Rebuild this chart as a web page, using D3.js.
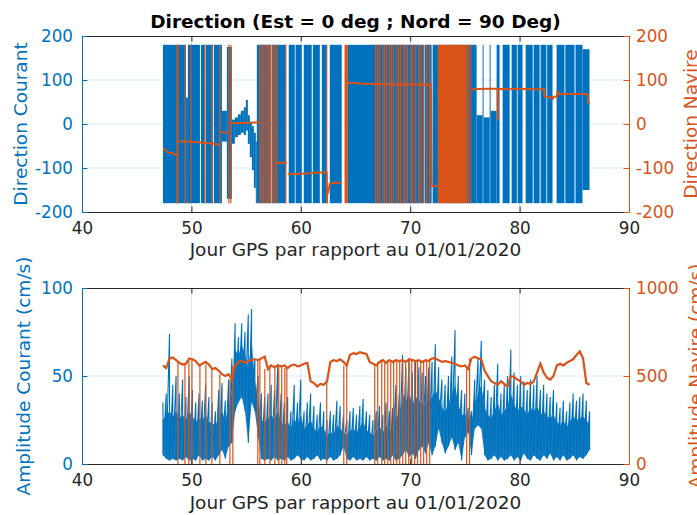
<!DOCTYPE html>
<html>
<head>
<meta charset="utf-8">
<script src="https://cdn.jsdelivr.net/npm/d3@7"></script>
<style>
  body { margin: 0; background: #fff; overflow: hidden; }
  svg text { font-family: "DejaVu Sans", sans-serif; }
</style>
</head>
<body>
<svg id="chart"></svg>
<script>
// ---- valeurs ----
const xTicks = [40, 50, 60, 70, 80, 90];
const dirTicks = [-200, -100, 0, 100, 200];
const ampCourantTicks = [0, 50, 100];
const ampNavireTicks = [0, 500, 1000];

// direction du courant : enveloppe min/max par tranche (debut de tranche, en jours)
const jourDirCourant = [47.40, 49.50, 49.68, 50.78, 50.87, 51.23, 51.32, 51.96, 52.05, 52.79,
  53.24, 53.70, 53.97, 54.25, 54.52, 54.79, 54.98, 55.16, 55.34, 55.53,
  55.71, 55.89, 55.98, 57.30, 57.36, 58.63, 58.90, 59.45, 59.52, 60.09,
  60.27, 61.00, 61.10, 61.74, 61.92, 62.37, 62.65, 63.74, 64.29, 71.23,
  71.32, 71.96, 72.05, 76.07, 76.62, 76.71, 77.26, 77.35, 77.90, 78.17,
  78.45, 79.09, 79.27, 79.75, 79.82, 80.27, 80.55, 81.20, 81.28, 81.83,
  81.92, 82.45, 82.52, 83.01, 83.38, 84.10, 84.18, 85.02, 85.11, 85.75,
  86.39];
const dirCourantMin = [-180, -180, -180, null, -180, null, -180, null, -180, -40,
  -170, -45, -30, -25, -20, -25, -15, -45, -75, -105,
  -145, -180, -180, null, -180, null, -180, null, -180, null,
  -180, null, -180, null, -180, null, -180, null, -180, null,
  -180, null, -180, -180, -180, -180, -180, -180, -180, null,
  -180, null, -180, null, -180, null, -180, null, -180, null,
  -180, null, -180, null, -180, null, -180, null, -180, -150,
  null];
const dirCourantMax = [180, 60, 180, null, 180, null, 180, null, 180, 30,
  175, 10, 15, 22, 30, 38, 55, 20, 5, -5,
  -20, -40, 180, null, 180, null, 180, null, 180, null,
  180, null, 180, null, 180, null, 180, null, 180, null,
  180, null, 180, 20, 180, 15, 180, 30, 180, null,
  180, null, 180, null, 180, null, 180, null, 180, null,
  180, null, 180, null, 180, null, 180, null, 180, 170,
  null];

// direction du navire (null = coupure du trait)
const jourDirNavire = [47.40, 47.58, 47.85, 48.22, 48.58, 48.77, 48.80, 48.86, 49.86, 50.78,
  51.69, 52.55, 52.60, 52.69, 53.30, 53.40, 53.70, 54.43, 55.34, 56.20,
  56.30, 57.81, 58.72, 58.76, 58.81, 59.91, 60.82, 61.74, 62.37, 62.40,
  62.42, 62.45, 62.65, 63.20, 63.74, 64.00, 64.30, 65.39, 66.76, 68.50,
  71.90, 71.96, 72.45, 72.50, 75.62, 77.00, 77.99, 78.00, 78.01, 79.00,
  80.00, 81.00, 82.25, 82.28, 83.00, 83.01, 83.10, 83.40, 83.47, 83.55,
  85.00, 86.21, 86.30];
const dirNavire = [-55, -58, -65, -66, -70, -68, null, -39, -40, -42,
  -44, -47, null, -18, -20, null, 2, 2, 3, 4,
  null, -88, -88, null, -114, -113, -112, -110, -110, -180,
  null, -160, -136, -133, -134, null, 94, 92, 91, 90,
  90, -141, -141, null, 79, 80, 80, 10, 80, 79,
  80, 79, 79, 62, 60, 55, 62, 62, 75, 68,
  68, 68, 45];
// passages -180 / +180 du cap navire
const basculesNavire = [48.68, 48.77, 49.41, 49.95, 51.23, 51.87, 52.60, 53.42, 53.61, 56.26,
  56.44, 56.62, 56.80, 56.99, 57.10, 57.25, 57.44, 57.63, 57.81, 58.63,
  62.37, 66.85, 67.03, 67.21, 67.49, 67.67, 67.85, 68.13, 68.31, 68.49,
  68.77, 68.95, 69.13, 69.41, 69.59, 69.77, 70.05, 70.23, 70.50, 70.78,
  70.96, 71.23, 71.51, 71.78, 75.34, 75.53];
const blocsDebut = [64.00, 72.51];
const blocsFin = [64.30, 75.23];

// amplitudes
const joursAmp = [47.4, 47.7, 48.0, 48.3, 48.6, 48.9, 49.2, 49.5, 49.8, 50.1,
  50.4, 50.7, 51.0, 51.3, 51.6, 51.9, 52.2, 52.5, 52.8, 53.1,
  53.4, 53.7, 54.0, 54.3, 54.6, 54.9, 55.2, 55.5, 55.8, 56.1,
  56.4, 56.7, 57.0, 57.3, 57.6, 57.9, 58.2, 58.5, 58.8, 59.1,
  59.4, 59.7, 60.0, 60.3, 60.6, 60.9, 61.2, 61.5, 61.8, 62.1,
  62.4, 62.7, 63.0, 63.3, 63.6, 63.9, 64.2, 64.5, 64.8, 65.1,
  65.4, 65.7, 66.0, 66.3, 66.6, 66.9, 67.2, 67.5, 67.8, 68.1,
  68.4, 68.7, 69.0, 69.3, 69.6, 69.9, 70.2, 70.5, 70.8, 71.1,
  71.4, 71.7, 72.0, 72.3, 72.6, 72.9, 73.2, 73.5, 73.8, 74.1,
  74.4, 74.7, 75.0, 75.3, 75.6, 75.9, 76.2, 76.5, 76.8, 77.1,
  77.4, 77.7, 78.0, 78.3, 78.6, 78.9, 79.2, 79.5, 79.8, 80.1,
  80.4, 80.7, 81.0, 81.3, 81.6, 81.9, 82.2, 82.5, 82.8, 83.1,
  83.4, 83.7, 84.0, 84.3, 84.6, 84.9, 85.2, 85.5, 85.8, 86.1,
  86.4];
const ampCourantMax = [35, 40, 74, 45, 50, 40, 48, 38, 50, 42,
  35, 40, 36, 45, 38, 35, 30, 42, 46, 36,
  48, 60, 80, 72, 80, 75, 85, 88, 60, 50,
  40, 38, 40, 45, 42, 57, 40, 35, 38, 30,
  45, 35, 48, 30, 35, 40, 33, 28, 35, 30,
  25, 30, 28, 36, 33, 28, 25, 30, 32, 28,
  33, 37, 30, 28, 25, 30, 33, 28, 35, 30,
  32, 45, 40, 62, 55, 60, 52, 58, 55, 52,
  50, 55, 58, 68, 55, 48, 45, 50, 61, 76,
  50, 42, 40, 32, 30, 48, 60, 70, 48, 42,
  38, 45, 57, 40, 45, 50, 65, 52, 45, 50,
  47, 42, 48, 45, 50, 42, 45, 40, 38, 42,
  35, 32, 36, 30, 35, 40, 36, 38, 40, 36,
  30];
// niveau sous lequel le trace bleu est quasi plein
const ampCourantCorps = [25, 28, 30, 27, 30, 26, 28, 25, 30, 27,
  24, 26, 25, 28, 24, 23, 22, 26, 30, 25,
  32, 40, 65, 62, 68, 62, 55, 70, 48, 35,
  25, 24, 26, 28, 25, 30, 24, 22, 24, 20,
  26, 22, 28, 20, 22, 25, 20, 18, 22, 20,
  16, 18, 17, 22, 20, 18, 16, 19, 20, 18,
  21, 24, 19, 18, 16, 19, 21, 18, 22, 19,
  20, 28, 26, 40, 36, 40, 34, 38, 36, 34,
  33, 36, 38, 42, 38, 32, 30, 34, 40, 45,
  34, 28, 28, 26, 24, 34, 40, 45, 32, 28,
  26, 30, 35, 28, 30, 33, 40, 34, 30, 33,
  31, 28, 32, 30, 33, 28, 30, 27, 26, 28,
  24, 22, 25, 21, 24, 27, 25, 26, 27, 25,
  22];
const ampCourantMin = [5, 3, 2, 3, 2, 3, 2, 4, 2, 3,
  2, 5, 2, 3, 2, 4, 2, 5, 8, 3,
  10, 12, 30, 35, 38, 30, 12, 35, 30, 15,
  3, 2, 3, 2, 4, 2, 3, 2, 4, 2,
  3, 5, 3, 2, 4, 2, 3, 5, 2, 3,
  2, 4, 2, 3, 5, 10, 3, 2, 4, 2,
  3, 2, 4, 2, 3, 2, 4, 2, 3, 2,
  5, 2, 3, 5, 8, 4, 6, 3, 8, 10,
  6, 12, 5, 10, 20, 12, 6, 10, 15, 8,
  12, 2, 15, 18, 5, 20, 22, 20, 5, 2,
  3, 5, 2, 4, 2, 3, 5, 2, 4, 2,
  6, 3, 2, 5, 3, 2, 5, 3, 6, 2,
  4, 2, 5, 2, 3, 5, 2, 4, 3, 5,
  8];
const ampNavire = [560, 545, 600, 605, 590, 575, 565, 570, 600, 595,
  585, 560, 570, 580, 565, 540, 545, 530, 510, 500,
  510, 480, 560, 580, 585, 575, 585, 590, 595, 590,
  600, 610, 540, 560, 550, 560, 555, 560, 545, 560,
  565, 555, 560, 570, 575, 470, 460, 440, 455, 450,
  470, 580, 590, 585, 595, 580, 560, 620, 630, 625,
  635, 630, 625, 580, 570, 560, 580, 590, 575, 590,
  580, 590, 585, 590, 580, 595, 590, 585, 590, 580,
  590, 585, 600, 600, 590, 580, 585, 580, 575, 570,
  560, 555, 560, 540, 600, 610, 600, 595, 530, 500,
  470, 460, 450, 470, 455, 440, 500, 495, 480, 470,
  450, 460, 455, 470, 520, 570, 520, 490, 480, 500,
  560, 570, 560, 575, 585, 595, 620, 640, 600, 460,
  450];
// chutes a zero de l'amplitude navire
const chutesNavire = [48.77, 49.41, 49.77, 50.05, 50.78, 51.32, 51.87, 52.60, 53.52, 53.79,
  56.07, 56.26, 56.71, 57.17, 57.63, 57.99, 58.26, 58.54, 58.72, 62.37,
  63.93, 64.20, 66.76, 67.03, 67.40, 67.67, 67.95, 68.22, 68.49, 68.77,
  69.04, 69.32, 69.59, 69.86, 70.14, 70.41, 70.68, 70.96, 71.23, 71.51,
  71.78, 75.16, 75.43];

// ---- dessin ----
const W = 697, H = 515;
const bleu = '#0072BD', orange = '#D95319', gris = '#262626';
const svg = d3.select('#chart').attr('width', W).attr('height', H);

const x = d3.scaleLinear().domain([40, 90]).range([82, 629]);
const yDir = d3.scaleLinear().domain([-200, 200]).range([212, 36]);
const yAmpC = d3.scaleLinear().domain([0, 100]).range([464, 288]);
const yAmpN = d3.scaleLinear().domain([0, 1000]).range([464, 288]);

function grille(yScale, yVals) {
  const g = svg.append('g');
  const [bas, haut] = yScale.range();
  g.selectAll('line.gx').data(xTicks.slice(1, -1)).join('line').attr('class', 'gx')
    .attr('x1', d => x(d)).attr('x2', d => x(d)).attr('y1', bas).attr('y2', haut)
    .attr('stroke', '#dfdfdf');
  g.selectAll('line.gy').data(yVals.slice(1, -1)).join('line').attr('class', 'gy')
    .attr('x1', x.range()[0]).attr('x2', x.range()[1])
    .attr('y1', d => yScale(d)).attr('y2', d => yScale(d))
    .attr('stroke', '#d9eaf5');
}

function styleAxe(sel, col) {
  sel.attr('font-size', 16.8).attr('font-family', '"DejaVu Sans", sans-serif');
  sel.select('.domain').attr('stroke', col);
  sel.selectAll('.tick line').attr('stroke', col);
  sel.selectAll('.tick text').attr('fill', col);
}

function axes(yG, yD, ticksG, ticksD) {
  const g = svg.append('g');
  const [bas, haut] = yG.range();
  const fmt = d => String(d);
  g.append('g').attr('transform', `translate(0,${bas})`)
    .call(d3.axisBottom(x).tickValues(xTicks).tickFormat(fmt).tickSize(-5.5).tickSizeOuter(0).tickPadding(10))
    .call(styleAxe, gris);
  g.append('g').attr('transform', `translate(0,${haut})`)
    .call(d3.axisTop(x).tickValues(xTicks).tickFormat(() => '').tickSize(-5.5).tickSizeOuter(0))
    .call(styleAxe, gris);
  g.append('g').attr('transform', `translate(${x.range()[0]},0)`)
    .call(d3.axisLeft(yG).tickValues(ticksG).tickFormat(fmt).tickSize(-5.5).tickSizeOuter(0).tickPadding(9))
    .call(styleAxe, bleu);
  g.append('g').attr('transform', `translate(${x.range()[1]},0)`)
    .call(d3.axisRight(yD).tickValues(ticksD).tickFormat(fmt).tickSize(-5.5).tickSizeOuter(0).tickPadding(7))
    .call(styleAxe, orange);
}

function etiquette(txt, px, py, col, rot) {
  svg.append('text')
    .attr('transform', `translate(${px},${py})` + (rot ? ' rotate(-90)' : ''))
    .attr('text-anchor', 'middle').attr('font-size', 18.5).attr('fill', col)
    .text(txt);
}

// ---------- panneau du haut : directions ----------
grille(yDir, dirTicks);
const gHaut = svg.append('g');

const segDir = jourDirCourant.slice(0, -1)
  .map((t, i) => ({ t0: t, t1: jourDirCourant[i + 1], lo: dirCourantMin[i], hi: dirCourantMax[i] }))
  .filter(d => d.lo !== null);
gHaut.selectAll('rect.dc').data(segDir).join('rect').attr('class', 'dc')
  .attr('x', d => x(d.t0)).attr('width', d => x(d.t1) - x(d.t0))
  .attr('y', d => yDir(d.hi)).attr('height', d => yDir(d.lo) - yDir(d.hi))
  .attr('fill', bleu);

gHaut.selectAll('rect.bloc').data(blocsDebut.map((t, i) => [t, blocsFin[i]])).join('rect').attr('class', 'bloc')
  .attr('x', d => x(d[0])).attr('width', d => x(d[1]) - x(d[0]))
  .attr('y', yDir(180)).attr('height', yDir(-180) - yDir(180))
  .attr('fill', orange);

gHaut.selectAll('line.bascule').data(basculesNavire).join('line').attr('class', 'bascule')
  .attr('x1', d => x(d)).attr('x2', d => x(d))
  .attr('y1', yDir(-180)).attr('y2', yDir(180))
  .attr('stroke', orange).attr('stroke-width', 1.2);

const ligneDir = d3.line().defined(d => d[1] !== null).x(d => x(d[0])).y(d => yDir(d[1]));
gHaut.append('path').datum(jourDirNavire.map((t, i) => [t, dirNavire[i]]))
  .attr('d', ligneDir).attr('fill', 'none')
  .attr('stroke', orange).attr('stroke-width', 2);

axes(yDir, yDir, dirTicks, dirTicks);

// ---------- panneau du bas : amplitudes ----------
grille(yAmpC, ampCourantTicks);
const gBas = svg.append('g');

// partie dense du courant
gBas.append('path').datum(joursAmp.map((t, i) => [t, ampCourantMin[i], ampCourantCorps[i]]))
  .attr('d', d3.area().x(d => x(d[0])).y0(d => yAmpC(d[1])).y1(d => yAmpC(d[2])))
  .attr('fill', bleu).attr('fill-opacity', 0.92);

// pointes du courant
const ptsCourant = joursAmp.flatMap((t, i) => [[t, ampCourantMax[i]], [t, ampCourantMin[i]]]);
gBas.append('path').datum(ptsCourant)
  .attr('d', d3.line().x(d => x(d[0])).y(d => yAmpC(d[1])))
  .attr('fill', 'none').attr('stroke', bleu).attr('stroke-width', 1.1);

gBas.selectAll('line.chute').data(chutesNavire).join('line').attr('class', 'chute')
  .attr('x1', d => x(d)).attr('x2', d => x(d))
  .attr('y1', yAmpN(0))
  .attr('y2', d => {
    const i = Math.min(d3.bisectLeft(joursAmp, d), joursAmp.length - 1);
    return yAmpN(ampNavire[i]);
  })
  .attr('stroke', orange).attr('stroke-width', 1.2);

gBas.append('path').datum(joursAmp.map((t, i) => [t, ampNavire[i]]))
  .attr('d', d3.line().x(d => x(d[0])).y(d => yAmpN(d[1])))
  .attr('fill', 'none').attr('stroke', orange).attr('stroke-width', 2.2);

axes(yAmpC, yAmpN, ampCourantTicks, ampNavireTicks);

// ---------- textes ----------
svg.append('text').attr('x', 355.5).attr('y', 28).attr('text-anchor', 'middle')
  .attr('font-size', 18.5).attr('font-weight', 'bold').attr('fill', '#000')
  .text('Direction (Est = 0 deg ; Nord = 90 Deg)');

etiquette('Jour GPS par rapport au 01/01/2020', 355.5, 256, gris, false);
etiquette('Jour GPS par rapport au 01/01/2020', 355.5, 509, gris, false);
etiquette('Direction Courant', 27, 124, bleu, true);
etiquette('Direction Navire', 697, 124, orange, true);
etiquette('Amplitude Courant (cm/s)', 30, 376, bleu, true);
etiquette('Amplitude Navire (cm/s)', 702, 376, orange, true);
</script>
</body>
</html>
